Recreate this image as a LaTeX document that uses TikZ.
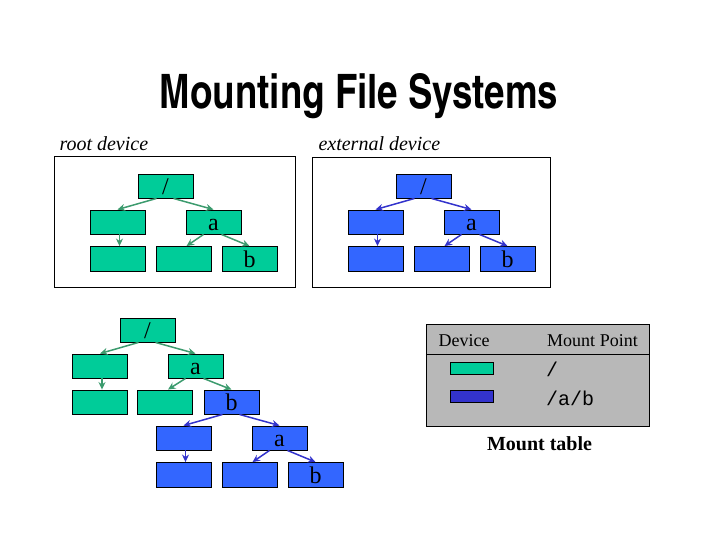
\documentclass[tikz,border=0pt]{standalone}
\usepackage{fontspec}
\setmainfont{Liberation Serif}
\setmonofont{Liberation Mono}
\newfontfamily\titlefont{texgyreheroscn-bold.otf}
\usepackage{tikz}
\usetikzlibrary{arrows.meta}
\definecolor{fsgreen}{RGB}{0,204,153}
\definecolor{fsgreenln}{RGB}{60,155,110}
\definecolor{fsblue}{RGB}{51,102,255}
\definecolor{fsblueln}{RGB}{51,51,204}
\definecolor{fsgray}{RGB}{184,184,184}
\newcommand{\nodefont}{\fontsize{24}{24}\selectfont}

\begin{document}
\begin{tikzpicture}[>={Stealth[length=7.5pt,width=7pt]}, x=1pt, y=-1pt,
  fsbox/.style={draw, rectangle, minimum width=55pt, minimum height=24.5pt, inner sep=0pt,
    text height=20.5pt, text depth=3.5pt, font=\nodefont},
  gbox/.style={fsbox, fill=fsgreen},
  bbox/.style={fsbox, fill=fsblue},
  garr/.style={->, draw=fsgreenln, fill=fsgreenln, line width=1.5pt},
  barr/.style={->, draw=fsblueln, fill=fsblueln, line width=1.5pt}]
\useasboundingbox (0,0) rectangle (720,540);
\node[anchor=base] (title) at (359,109) {\resizebox{398pt}{35pt}{\titlefont Mounting File Systems}};

% root device
\node[draw, rectangle, minimum width=241pt, minimum height=131pt, inner sep=0pt] (rdev) at (174.5,221.5) {};
\node[anchor=base west, font=\fontsize{20}{20}\selectfont\itshape] at (56,151) {root device};
\node[gbox] (rr) at (165.5,186) {/};
\node[gbox] (rl) at (117.5,222) {};
\node[gbox] (ra) at (213.5,222) {a};
\node[gbox] (rll) at (117.5,258.5) {};
\node[gbox] (ral) at (183.5,258.5) {};
\node[gbox] (rb) at (249.5,258.5) {b};
\draw[garr] ([xshift=-9pt]rr.south) -- (rl.north);
\draw[garr] ([xshift=8pt]rr.south) -- (ra.north);
\draw[garr] ([xshift=2pt]rl.south) -- ([xshift=2pt]rll.north);
\draw[garr] ([xshift=-10pt]ra.south) -- ([xshift=3pt]ral.north);
\draw[garr] ([xshift=8pt]ra.south) -- (rb.north);

% external device
\node[draw, rectangle, minimum width=238pt, minimum height=130pt, inner sep=0pt] (edev) at (431,222) {};
\node[anchor=base west, font=\fontsize{20}{20}\selectfont\itshape] at (315,151) {external device};
\node[bbox] (er) at (423.5,186) {/};
\node[bbox] (el) at (375.5,222) {};
\node[bbox] (ea) at (471.5,222) {a};
\node[bbox] (ell) at (375.5,258.5) {};
\node[bbox] (eal) at (441.5,258.5) {};
\node[bbox] (eb) at (507.5,258.5) {b};
\draw[barr] ([xshift=-9pt]er.south) -- (el.north);
\draw[barr] ([xshift=8pt]er.south) -- (ea.north);
\draw[barr] ([xshift=2pt]el.south) -- ([xshift=2pt]ell.north);
\draw[barr] ([xshift=-10pt]ea.south) -- ([xshift=3pt]eal.north);
\draw[barr] ([xshift=8pt]ea.south) -- (eb.north);

% mounted tree
\node[gbox] (mr) at (147.5,330) {/};
\node[gbox] (ml) at (100,366) {};
\node[gbox] (ma) at (195.5,366) {a};
\node[gbox] (mll) at (100,402) {};
\node[gbox] (mal) at (165,402) {};
\node[bbox] (mb) at (231.5,402) {b};
\node[bbox] (mbl) at (183.5,438) {};
\node[bbox] (mba) at (279.5,438) {a};
\node[bbox] (mbll) at (183.5,474.5) {};
\node[bbox] (mbal) at (249.5,474.5) {};
\node[bbox] (mbb) at (315.5,474.5) {b};
\draw[garr] ([xshift=-9pt]mr.south) -- (ml.north);
\draw[garr] ([xshift=8pt]mr.south) -- (ma.north);
\draw[garr] ([xshift=2pt]ml.south) -- ([xshift=2pt]mll.north);
\draw[garr] ([xshift=-10pt]ma.south) -- ([xshift=3pt]mal.north);
\draw[garr] ([xshift=8pt]ma.south) -- (mb.north);
\draw[barr] ([xshift=-9pt]mb.south) -- (mbl.north);
\draw[barr] ([xshift=8pt]mb.south) -- (mba.north);
\draw[barr] ([xshift=2pt]mbl.south) -- ([xshift=2pt]mbll.north);
\draw[barr] ([xshift=-10pt]mba.south) -- ([xshift=3pt]mbal.north);
\draw[barr] ([xshift=8pt]mba.south) -- (mbb.north);

% mount table
\node[draw, fill=fsgray, rectangle, minimum width=223pt, minimum height=102pt, inner sep=0pt] (mtab) at (537.5,375) {};
\draw ([yshift=-30pt]mtab.north west) -- ([yshift=-30pt]mtab.north east);
\node[anchor=base, font=\fontsize{18}{18}\selectfont] (hdev) at (464,346) {Device};
\node[anchor=base, font=\fontsize{18}{18}\selectfont] (hmnt) at (592.5,346) {Mount Point};
\node[draw, fill=fsgreen, minimum width=43pt, minimum height=12pt, inner sep=0pt] (sw1) at (471.5,368) {};
\node[draw, fill=fsblueln, minimum width=43pt, minimum height=12pt, inner sep=0pt] (sw2) at (471.5,396) {};
\node[anchor=base west, inner sep=0pt, font=\fontsize{20}{20}\ttfamily] (mp1) at (546,376) {/};
\node[anchor=base west, inner sep=0pt, font=\fontsize{20}{20}\ttfamily] (mp2) at (546,405) {/a/b};
\node[anchor=base, font=\fontsize{20}{20}\selectfont\bfseries] (mcap) at (539.5,450) {Mount table};
\end{tikzpicture}
\end{document}
